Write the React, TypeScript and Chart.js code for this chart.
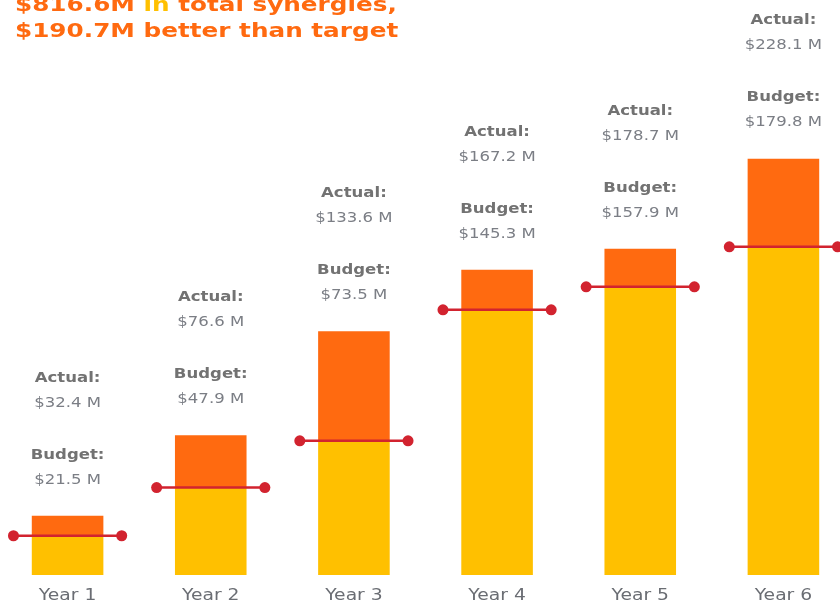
import React, { useEffect, useRef } from "react";
import { Chart, registerables } from "chart.js";

Chart.register(...registerables);

const categories = ["Year 1", "Year 2", "Year 3", "Year 4", "Year 5", "Year 6"];
const budget = [21.5, 47.9, 73.5, 145.3, 157.9, 179.8];
const actual = [32.4, 76.6, 133.6, 167.2, 178.7, 228.1];
const titleLine1 = [
  { text: "$816.6M ", accent: false },
  { text: "in", accent: true },
  { text: " total synergies,", accent: false },
];
const titleLine2 = [{ text: "$190.7M better than target", accent: false }];

const YELLOW = "#FFC000";
const ORANGE = "#FF6A10";
const RED = "#D2232F";
const FONT = "'DejaVu Sans', Verdana, sans-serif";

function fmt(v: number) {
  return "$" + v.toFixed(1) + " M";
}

function stretchText(
  ctx: CanvasRenderingContext2D,
  text: string,
  cx: number,
  cy: number,
  sx: number,
  font: string,
  color: string
) {
  ctx.save();
  ctx.font = font;
  ctx.fillStyle = color;
  ctx.textAlign = "center";
  ctx.textBaseline = "middle";
  ctx.translate(cx, cy);
  ctx.scale(sx, 1);
  ctx.fillText(text, 0, 0);
  ctx.restore();
}

function drawTitleLine(
  ctx: CanvasRenderingContext2D,
  parts: { text: string; accent: boolean }[],
  x: number,
  baseline: number,
  sx: number
) {
  ctx.save();
  ctx.font = `bold 19px ${FONT}`;
  ctx.textAlign = "left";
  ctx.textBaseline = "alphabetic";
  ctx.translate(x, baseline);
  ctx.scale(sx, 1);
  let pos = 0;
  for (const p of parts) {
    ctx.fillStyle = p.accent ? YELLOW : ORANGE;
    ctx.fillText(p.text, pos, 0);
    pos += ctx.measureText(p.text).width;
  }
  ctx.restore();
}

const labelPlugin = {
  id: "customLabels",
  afterDraw(chart: any) {
    const ctx: CanvasRenderingContext2D = chart.ctx;
    const xs = chart.scales.x;
    const ys = chart.scales.y;
    const bold = `bold 14.5px ${FONT}`;
    const normal = `14.5px ${FONT}`;
    const sx = 1.14;
    categories.forEach((cat, i) => {
      const cx = xs.getPixelForValue(i);
      const top = ys.getPixelForValue(actual[i]);
      stretchText(ctx, "Actual:", cx, top - 138, sx, bold, "#727272");
      stretchText(ctx, fmt(actual[i]), cx, top - 113, sx, normal, "#7b7e85");
      stretchText(ctx, "Budget:", cx, top - 61, sx, bold, "#727272");
      stretchText(ctx, fmt(budget[i]), cx, top - 36, sx, normal, "#7b7e85");
      stretchText(ctx, cat, cx, chart.chartArea.bottom + 21, 1.17, `16px ${FONT}`, "#6a6d73");
    });
    drawTitleLine(ctx, titleLine1, 19, 11, 1.3);
    drawTitleLine(ctx, titleLine2, 19, 37, 1.3);
  },
};

export default function App() {
  const ref = useRef<HTMLCanvasElement>(null);
  useEffect(() => {
    document.documentElement.style.overflow = "hidden";
    document.body.style.overflow = "hidden";
    const half = 0.378;
    const budgetLine: { x: number; y: number | null }[] = [];
    budget.forEach((b, i) => {
      budgetLine.push({ x: i - half, y: b });
      budgetLine.push({ x: i + half, y: b });
      budgetLine.push({ x: i + 0.5, y: null });
    });
    const chart = new Chart(ref.current!, {
      type: "bar",
      data: {
        labels: categories,
        datasets: [
          {
            type: "line",
            label: "Budget line",
            data: budgetLine as any,
            xAxisID: "x2",
            yAxisID: "y",
            borderColor: RED,
            borderWidth: 2.5,
            pointRadius: 5.5,
            pointHoverRadius: 5.5,
            pointBackgroundColor: RED,
            pointBorderWidth: 0,
            spanGaps: false,
            stack: "line",
            order: 0,
          } as any,
          {
            label: "Budget",
            data: budget,
            backgroundColor: YELLOW,
            stack: "s",
            order: 1,
            grouped: false,
            categoryPercentage: 1,
            barPercentage: 0.5,
          },
          {
            label: "Above budget",
            data: actual.map((a, i) => a - budget[i]),
            backgroundColor: ORANGE,
            stack: "s",
            order: 1,
            grouped: false,
            categoryPercentage: 1,
            barPercentage: 0.5,
          },
        ],
      },
      options: {
        animation: false,
        responsive: true,
        maintainAspectRatio: false,
        layout: { autoPadding: false, padding: { top: 0, bottom: 29, left: 0, right: 0 } },
        plugins: { legend: { display: false }, tooltip: { enabled: false }, title: { display: false } },
        scales: {
          x: { display: false, stacked: true, offset: true },
          x2: { type: "linear", display: false, min: -0.5, max: 5.5, offset: false, grid: { offset: false } },
          y: { display: false, stacked: true, min: 0, max: 315 },
        },
      },
      plugins: [labelPlugin],
    });
    return () => chart.destroy();
  }, []);
  return (
    <div style={{ position: "fixed", left: -4, top: 0, width: 859, height: 604 }}>
      <canvas ref={ref} />
    </div>
  );
}
